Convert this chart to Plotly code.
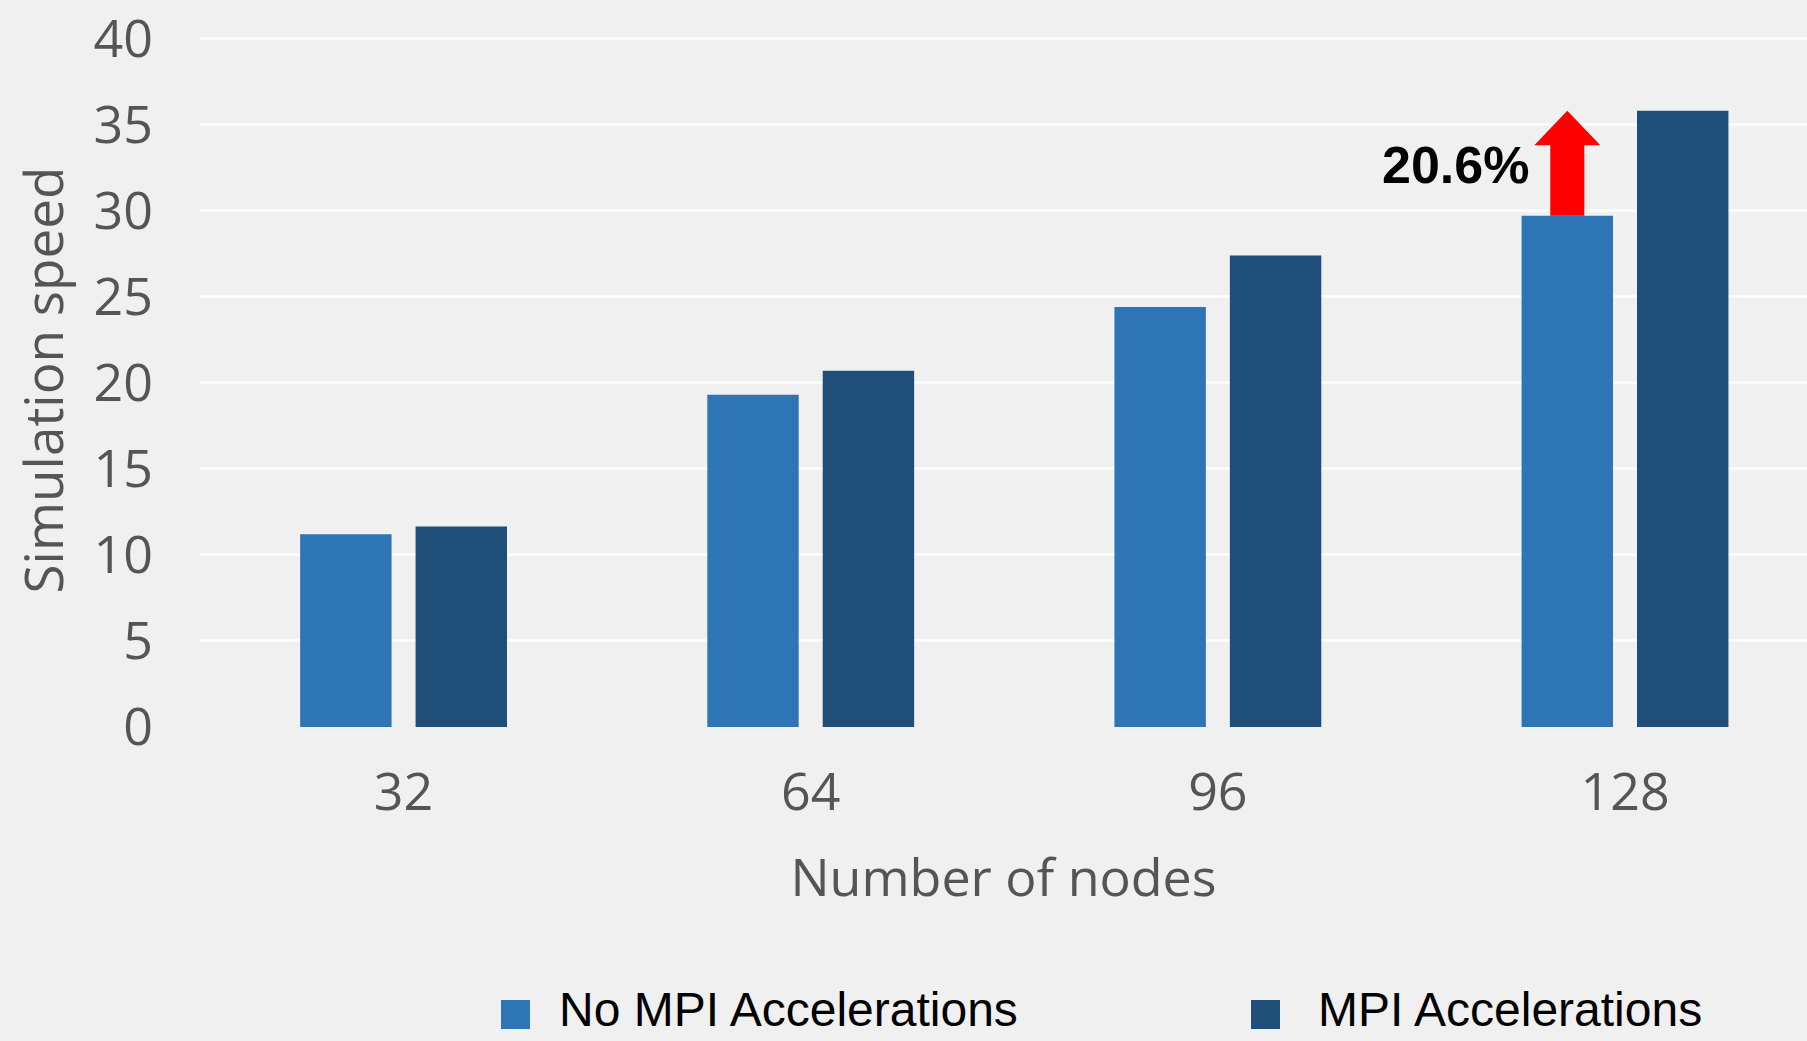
import plotly.graph_objects as go

# ---- data ----
nodes = ["32", "64", "96", "128"]
no_mpi = [11.2, 19.3, 24.4, 29.7]
mpi = [11.65, 20.7, 27.4, 35.8]
series_names = ["No MPI Accelerations", "MPI Accelerations"]
y_ticks = [0, 5, 10, 15, 20, 25, 30, 35, 40]
gain_label = "20.6%"

C_NO = "#2E75B6"
C_MPI = "#1F4E79"
BG = "#F0F0F0"
GRAY = "#555555"

W, H = 1807, 1041
ML, MR, MT, MB = 200, 0, 33, 314
BARGAP = 0.433
BARGROUPGAP = 0.208

fig = go.Figure()
fig.add_trace(go.Bar(x=nodes, y=no_mpi, name=series_names[0],
                     marker=dict(color=C_NO, line=dict(width=0)), showlegend=False))
fig.add_trace(go.Bar(x=nodes, y=mpi, name=series_names[1],
                     marker=dict(color=C_MPI, line=dict(width=0)), showlegend=False))

# red arrow over the last "No MPI" bar, from its top to the MPI level
slot = (1 - BARGAP) / 2
arrow_x = (len(nodes) - 1) - slot / 2
base = no_mpi[-1]
tip = mpi[-1]
head = tip - 2.0
path = (f"M -17,{base} L 17,{base} L 17,{head} L 33,{head} "
        f"L 0,{tip} L -33,{head} L -17,{head} Z")
fig.add_shape(type="path", xref="x", yref="y", xsizemode="pixel", xanchor=arrow_x,
              path=path, fillcolor="#FF0000", line=dict(width=0), layer="above")

fig.add_annotation(x=arrow_x, y=(base + tip) / 2, xref="x", yref="y",
                   text=f"<b>{gain_label}</b>", showarrow=False,
                   xanchor="right", yanchor="middle", xshift=-36, yshift=-2,
                   font=dict(family="Liberation Sans, Arial", size=52, color="#000000"))

# manual legend (large square swatches)
def px_x(px):
    return (px - ML) / (W - ML - MR)

def px_y(py):
    return (H - MB - py) / (H - MT - MB)

legend_items = [(series_names[0], C_NO, 501, 557), (series_names[1], C_MPI, 1251, 1316)]
for name, col, sx, tx in legend_items:
    fig.add_shape(type="rect", xref="paper", yref="paper",
                  x0=px_x(sx), x1=px_x(sx + 29), y0=px_y(1000), y1=px_y(1029),
                  fillcolor=col, line=dict(width=0))
    fig.add_annotation(x=px_x(tx), y=px_y(1009), xref="paper", yref="paper",
                       text=name, showarrow=False, xanchor="left", yanchor="middle",
                       font=dict(family="Liberation Sans, Arial", size=48,
                                 color="#000000"))

fig.update_layout(
    width=W, height=H,
    margin=dict(l=ML, r=MR, t=MT, b=MB, pad=0),
    paper_bgcolor=BG, plot_bgcolor=BG,
    barmode="group", bargap=BARGAP, bargroupgap=BARGROUPGAP,
    font=dict(family="Open Sans", color=GRAY),
    xaxis=dict(type="category", range=[-0.5, 3.447], showgrid=False, zeroline=False,
               showline=False, ticks="", tickfont=dict(size=52, color=GRAY),
               ticklabelstandoff=30, automargin=False,
               title=dict(text="Number of nodes", font=dict(size=52, color=GRAY), standoff=35)),
    yaxis=dict(range=[0, 40.32], tickvals=y_ticks, showgrid=True, gridcolor="#FBFBFB",
               gridwidth=3, zeroline=False, showline=False, ticks="",
               tickfont=dict(size=52, color=GRAY), ticklabelstandoff=46,
               ticklabeloverflow="allow", automargin=False,
               title=dict(text="Simulation speed", font=dict(size=53, color=GRAY), standoff=12)),
)

fig.write_html("out.html")
